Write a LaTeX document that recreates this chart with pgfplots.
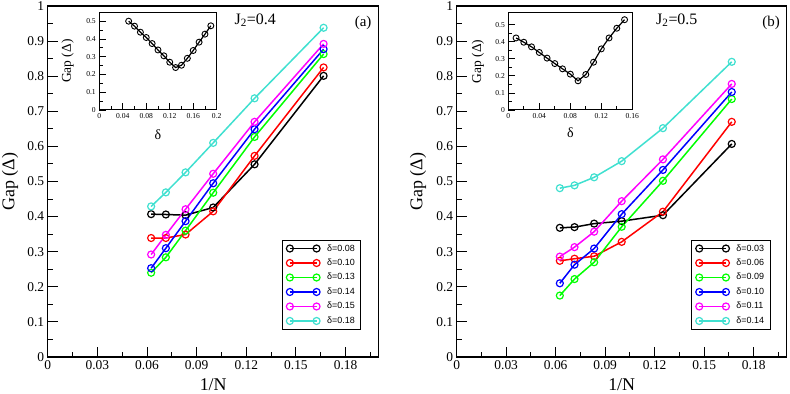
\documentclass[border=0pt]{standalone}
\usepackage{fontspec}
\setmainfont{Liberation Serif}
\setsansfont{Liberation Sans}
\usepackage{pgfplots}
\pgfplotsset{compat=1.18}
\definecolor{xgreen}{RGB}{0,255,0}
\definecolor{xturq}{RGB}{64,224,208}
\definecolor{xmag}{RGB}{255,0,255}

\pgfplotsset{
  mainax/.style={
    scale only axis, width=331bp, height=351bp,
    xmin=0, xmax=0.2, ymin=0, ymax=1,
    axis line style={line width=1.2bp},
    xtick={0,0.03,0.06,0.09,0.12,0.15,0.18},
    minor xtick={0.015,0.045,0.075,0.105,0.135,0.165,0.195},
    ytick={0,0.1,0.2,0.3,0.4,0.5,0.6,0.7,0.8,0.9,1},
    minor ytick={0.05,0.15,0.25,0.35,0.45,0.55,0.65,0.75,0.85,0.95},
    tick align=inside, tick pos=left,
    major tick length=10bp, minor tick length=5bp,
    every tick/.style={black, line width=1bp},
    tick label style={font=\fontsize{13.5}{15}\selectfont},
    /pgf/number format/assume math mode=true,
    /pgf/number format/fixed, /pgf/number format/precision=2,
    label style={font=\fontsize{18}{20}\selectfont},
    xlabel={1/N}, ylabel={Gap (Δ)},
    xlabel style={at={(axis description cs:0.5,-0.080)}, anchor=center},
    ylabel style={at={(axis description cs:-0.114,0.5)}, anchor=center},
    legend image code/.code={%
      \draw[#1, line width=1.5bp, mark size=3.5bp,
        mark options={solid, line width=1.2bp}]
        plot coordinates {(0bp,0bp) (26.7bp,0bp)};},
    legend style={draw=black, line width=0.8bp, fill=white,
      at={(rel axis cs:0.947,0.333)}, anchor=north east,
      font=\sffamily\fontsize{9}{10}\selectfont,
      inner xsep=4bp, inner ysep=4bp, row sep=6.5bp,
      nodes={inner ysep=0pt, inner xsep=2bp},
      /tikz/every odd column/.append style={column sep=5bp}},
    legend cell align=left,
  },
  mp/.style={line width=1.5bp, mark=o, mark size=3.5bp,
      mark options={solid, line width=1.2bp}},
  insetax/.style={
    scale only axis, axis background/.style={fill=white},
    axis line style={line width=1bp},
    ymin=0,
    tick align=inside, tick pos=left,
    major tick length=7bp, minor tick length=3.5bp,
    every tick/.style={black, line width=0.8bp},
    tick label style={font=\fontsize{7.6}{9}\selectfont},
    /pgf/number format/assume math mode=true,
    /pgf/number format/fixed, /pgf/number format/precision=2,
    ytick={0,0.1,0.2,0.3,0.4,0.5},
    minor ytick={0.05,0.15,0.25,0.35,0.45},
    xlabel={δ}, ylabel={Gap (Δ)},
    xlabel style={font=\fontsize{14}{16}\selectfont},
    ylabel style={font=\fontsize{13.5}{15}\selectfont},
  },
  ip/.style={black, line width=1.2bp, mark=o, mark size=3bp,
      mark options={solid, line width=0.9bp}},
}

\begin{document}
\begin{tikzpicture}
\useasboundingbox (0,0) rectangle (790bp,394bp);

% ---------- panel (a) ----------
\begin{axis}[mainax, at={(47.7bp,37bp)}, anchor=south west]
\addplot[black, mp] coordinates {(0.0625,0.407) (0.0714,0.406) (0.0833,0.404) (0.1,0.426) (0.125,0.549) (0.1667,0.801)};
\addlegendentry{δ=0.08}
\addplot[red, mp] coordinates {(0.0625,0.339) (0.0714,0.339) (0.0833,0.349) (0.1,0.415) (0.125,0.573) (0.1667,0.825)};
\addlegendentry{δ=0.10}
\addplot[xgreen, mp] coordinates {(0.0625,0.240) (0.0714,0.284) (0.0833,0.360) (0.1,0.468) (0.125,0.627) (0.1667,0.863)};
\addlegendentry{δ=0.13}
\addplot[blue, mp] coordinates {(0.0625,0.253) (0.0714,0.310) (0.0833,0.387) (0.1,0.495) (0.125,0.649) (0.1667,0.877)};
\addlegendentry{δ=0.14}
\addplot[xmag, mp] coordinates {(0.0625,0.292) (0.0714,0.348) (0.0833,0.421) (0.1,0.522) (0.125,0.670) (0.1667,0.892)};
\addlegendentry{δ=0.15}
\addplot[xturq, mp] coordinates {(0.0625,0.429) (0.0714,0.469) (0.0833,0.526) (0.1,0.610) (0.125,0.737) (0.1667,0.938)};
\addlegendentry{δ=0.18}
\node[font=\fontsize{16}{18}\selectfont] at (axis description cs:0.627,0.960) {J\textsubscript{2}=0.4};
\node[font=\fontsize{15}{17}\selectfont] at (axis description cs:0.953,0.952) {(a)};
\end{axis}

\begin{axis}[insetax, at={(99.3bp,284bp)}, anchor=south west,
  width=117.4bp, height=97.7bp, xmin=0, xmax=0.2, ymax=0.55,
  xtick={0,0.04,0.08,0.12,0.16,0.2},
  minor xtick={0.02,0.06,0.1,0.14,0.18},
  xlabel style={at={(axis description cs:0.5,-0.256)}, anchor=center},
  ylabel style={at={(axis description cs:-0.27,0.5)}, anchor=center}]
\addplot[ip] coordinates {(0.05,0.500) (0.06,0.472) (0.07,0.438) (0.08,0.408) (0.09,0.374) (0.10,0.338) (0.11,0.305) (0.12,0.269) (0.13,0.239) (0.14,0.252) (0.15,0.291) (0.16,0.335) (0.17,0.382) (0.18,0.427) (0.19,0.474)};
\end{axis}

% ---------- panel (b) ----------
\begin{axis}[mainax, at={(456.7bp,37bp)}, anchor=south west, width=330bp,
  ylabel style={at={(axis description cs:-0.117,0.5)}, anchor=center},
  legend style={at={(rel axis cs:0.951,0.333)}}]
\addplot[black, mp] coordinates {(0.0625,0.368) (0.0714,0.370) (0.0833,0.380) (0.1,0.387) (0.125,0.404) (0.1667,0.607)};
\addlegendentry{δ=0.03}
\addplot[red, mp] coordinates {(0.0625,0.274) (0.0714,0.280) (0.0833,0.287) (0.1,0.328) (0.125,0.414) (0.1667,0.670)};
\addlegendentry{δ=0.06}
\addplot[xgreen, mp] coordinates {(0.0625,0.175) (0.0714,0.222) (0.0833,0.270) (0.1,0.371) (0.125,0.502) (0.1667,0.735)};
\addlegendentry{δ=0.09}
\addplot[blue, mp] coordinates {(0.0625,0.210) (0.0714,0.263) (0.0833,0.309) (0.1,0.407) (0.125,0.533) (0.1667,0.755)};
\addlegendentry{δ=0.10}
\addplot[xmag, mp] coordinates {(0.0625,0.286) (0.0714,0.313) (0.0833,0.357) (0.1,0.444) (0.125,0.563) (0.1667,0.778)};
\addlegendentry{δ=0.11}
\addplot[xturq, mp] coordinates {(0.0625,0.481) (0.0714,0.489) (0.0833,0.512) (0.1,0.558) (0.125,0.652) (0.1667,0.841)};
\addlegendentry{δ=0.14}
\node[font=\fontsize{16}{18}\selectfont] at (axis description cs:0.667,0.960) {J\textsubscript{2}=0.5};
\node[font=\fontsize{15}{17}\selectfont] at (axis description cs:0.953,0.952) {(b)};
\end{axis}

\begin{axis}[insetax, at={(508.3bp,284bp)}, anchor=south west,
  width=124bp, height=97.3bp, xmin=0, xmax=0.16, ymax=0.57,
  xtick={0,0.04,0.08,0.12,0.16},
  minor xtick={0.02,0.06,0.1,0.14},
  xlabel style={at={(axis description cs:0.5,-0.237)}, anchor=center},
  ylabel style={at={(axis description cs:-0.245,0.5)}, anchor=center}]
\addplot[ip] coordinates {(0.01,0.422) (0.02,0.397) (0.03,0.370) (0.04,0.337) (0.05,0.304) (0.06,0.272) (0.07,0.241) (0.08,0.210) (0.09,0.171) (0.10,0.208) (0.11,0.280) (0.12,0.358) (0.13,0.422) (0.14,0.479) (0.15,0.529)};
\end{axis}
\end{tikzpicture}
\end{document}
